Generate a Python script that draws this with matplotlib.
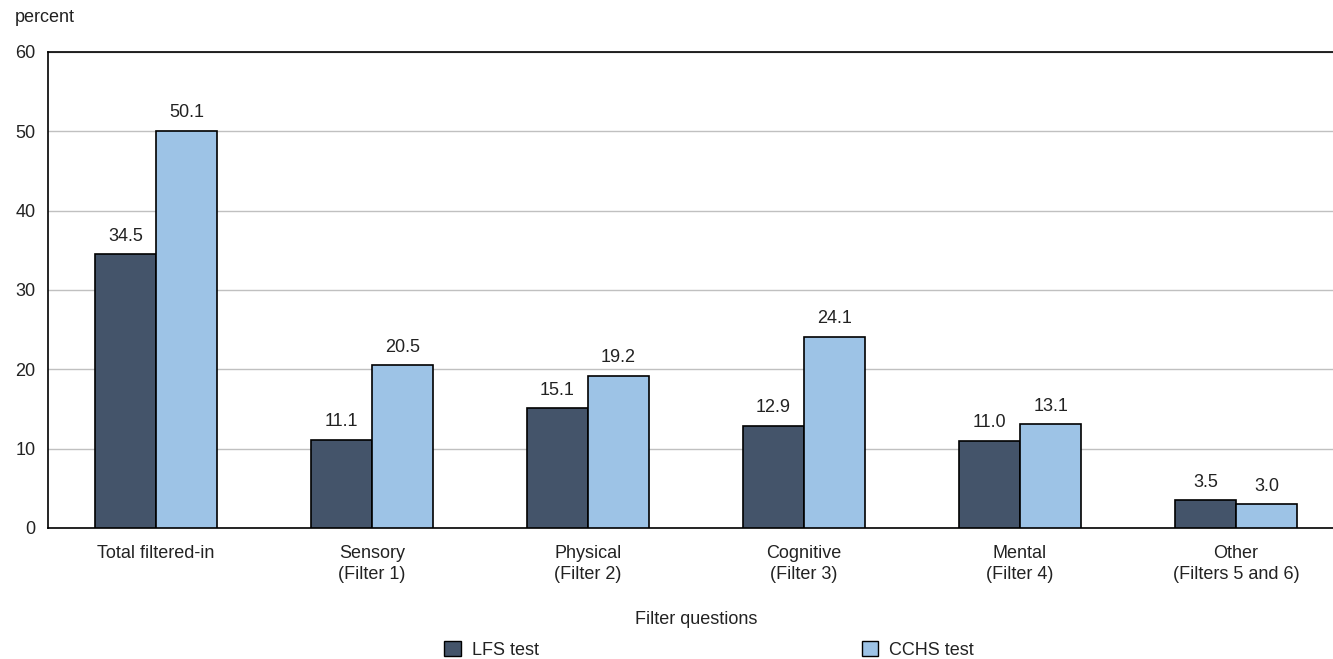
import matplotlib.pyplot as plt
import numpy as np
from matplotlib.patches import Patch

categories = ["Total filtered-in", "Sensory\n(Filter 1)", "Physical\n(Filter 2)",
              "Cognitive\n(Filter 3)", "Mental\n(Filter 4)", "Other\n(Filters 5 and 6)"]
lfs = [34.5, 11.1, 15.1, 12.9, 11.0, 3.5]
cchs = [50.1, 20.5, 19.2, 24.1, 13.1, 3.0]
series_names = ["LFS test", "CCHS test"]

dark = "#44546a"
light = "#9dc3e6"
txt = "#222222"

plt.rcParams["font.family"] = ["Liberation Sans", "DejaVu Sans"]
plt.rcParams["font.size"] = 13

W, H = 1333, 659
fig = plt.figure(figsize=(W / 100, H / 100), dpi=100)
ax = fig.add_axes([48 / W, 1 - 528 / H, 1296 / W, 476 / H])

x = np.arange(len(categories))
w = 0.283
b1 = ax.bar(x - w / 2, lfs, w, color=dark, edgecolor="black", linewidth=1.2, zorder=3)
b2 = ax.bar(x + w / 2, cchs, w, color=light, edgecolor="black", linewidth=1.2, zorder=3)

# value labels above each bar
for bars, vals in ((b1, lfs), (b2, cchs)):
    for r, v in zip(bars, vals):
        ax.text(r.get_x() + r.get_width() / 2, v + 1.2, f"{v:.1f}",
                ha="center", va="bottom", fontsize=13, color=txt)

ax.set_xlim(-0.5, len(categories) - 0.5)
ax.set_ylim(0, 60)
ax.set_yticks(range(0, 61, 10))
ax.yaxis.grid(True, color="#c0c0c0", linewidth=1, zorder=0)
ax.set_axisbelow(True)
ax.set_xticks(x)
ax.set_xticklabels(categories, linespacing=1.35)
ax.tick_params(length=0, labelsize=13, colors=txt)
ax.tick_params(axis="y", pad=9)
ax.tick_params(axis="x", pad=12)
for s in ("left", "top", "bottom", "right"):
    ax.spines[s].set_linewidth(1.2)

ax.set_xlabel("Filter questions", fontsize=13, labelpad=20, color=txt)
fig.text(15 / W, 1 - 18 / H, "percent", fontsize=13, va="center", color=txt)

handles = [Patch(facecolor=dark, edgecolor="black"), Patch(facecolor=light, edgecolor="black")]
fig.legend(handles, series_names, loc="center", bbox_to_anchor=(709 / W, 1 - 650 / H),
           ncol=2, frameon=False, columnspacing=17.9, handlelength=0.9, handleheight=0.9,
           handletextpad=0.6, fontsize=13, labelcolor=txt)

fig.savefig("out.png", dpi=100)
